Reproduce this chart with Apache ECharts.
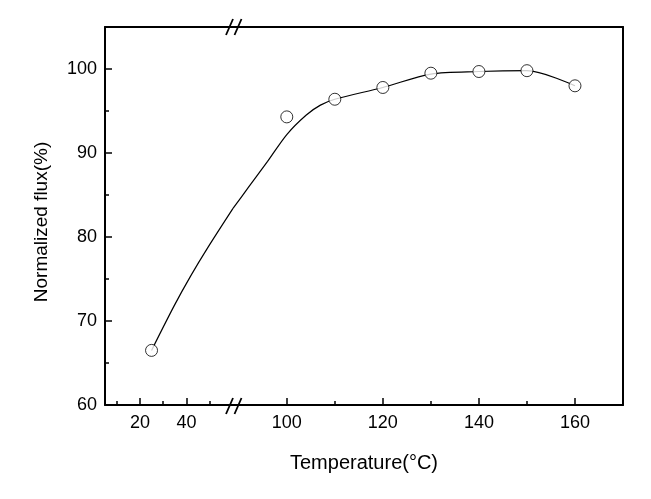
<!DOCTYPE html>
<html><head><meta charset="utf-8">
<script src="https://cdn.jsdelivr.net/npm/echarts@6/dist/echarts.min.js"></script>
<style>html,body{margin:0;padding:0;background:#fff}#c{width:651px;height:499px}</style>
</head><body><div id="c"></div>
<script>
// measured points
const temps = [25, 100, 110, 120, 130, 140, 150, 160];
const flux = [66.5, 94.3, 96.4, 97.8, 99.5, 99.7, 99.8, 98.0];
// fitted curve
const fitTemps = [25, 34.7, 41.9, 49.1, 60, 88.8, 92, 96, 100, 104, 107, 110, 120, 130, 140, 150, 160];
const fitFlux = [66.5, 71.8, 75.4, 78.7, 83.4, 83.4, 85.9, 89.0, 92.2, 94.5, 95.7, 96.4, 97.8, 99.4, 99.7, 99.8, 98.0];
// axes
const leftRange = [5, 60];
const rightRange = [88.8, 170];
const yRange = [60, 105];
const xTicksLeft = [20, 40];
const xMinorLeft = [10, 30, 50];
const xTicksRight = [100, 120, 140, 160];
const xMinorRight = [110, 130, 150];
const yTicks = [60, 70, 80, 90, 100];
const yMinor = [65, 75, 85, 95];
const xTitle = 'Temperature(°C)';
const yTitle = 'Normalized flux(%)';

const breakAt = leftRange[1];
const ptsL = [], ptsR = [], fitL = [], fitR = [];
temps.forEach((t, i) => (t <= breakAt ? ptsL : ptsR).push([t, flux[i]]));
fitTemps.forEach((t, i) => (t <= breakAt ? fitL : fitR).push([t, fitFlux[i]]));

const FONT = 'Liberation Sans, Arial, sans-serif';
const lineCol = '#000';
const axLine = { show: true, onZero: false, lineStyle: { color: lineCol, width: 2 } };
const noLine = { show: false };

function xMain(grid, rng, ticks) {
  return { type: 'value', gridIndex: grid, min: rng[0], max: rng[1], position: 'bottom',
    axisLine: axLine, splitLine: { show: false },
    axisTick: { show: true, inside: true, length: 7, customValues: ticks, lineStyle: { color: lineCol, width: 1.5 } },
    axisLabel: { show: true, customValues: ticks, margin: 9, color: '#000', fontSize: 18, fontFamily: FONT } };
}
function xMinor(grid, rng, ticks) {
  return { type: 'value', gridIndex: grid, min: rng[0], max: rng[1], position: 'bottom',
    axisLine: noLine, splitLine: { show: false },
    axisTick: { show: true, inside: true, length: 4, customValues: ticks, lineStyle: { color: lineCol, width: 1.5 } },
    axisLabel: { show: false } };
}
function xTop(grid, rng) {
  return { type: 'value', gridIndex: grid, min: rng[0], max: rng[1], position: 'top',
    axisLine: axLine, splitLine: { show: false }, axisTick: { show: false }, axisLabel: { show: false } };
}
const curveStyle = { color: '#000', width: 1.2 };

const chart = echarts.init(document.getElementById('c'));
chart.setOption({
  backgroundColor: '#fff',
  animation: false,
  grid: [
    { left: 105, top: 27, width: 128, height: 378 },
    { left: 233, top: 27, width: 390, height: 378 }
  ],
  xAxis: [
    xMain(0, leftRange, xTicksLeft), xMinor(0, leftRange, xMinorLeft), xTop(0, leftRange),
    xMain(1, rightRange, xTicksRight), xMinor(1, rightRange, xMinorRight), xTop(1, rightRange)
  ],
  yAxis: [
    { type: 'value', gridIndex: 0, min: yRange[0], max: yRange[1], position: 'left',
      axisLine: axLine, splitLine: { show: false },
      axisTick: { show: true, inside: true, length: 7, customValues: yTicks, lineStyle: { color: lineCol, width: 1.5 } },
      axisLabel: { show: true, customValues: yTicks, margin: 8, color: '#000', fontSize: 18, fontFamily: FONT } },
    { type: 'value', gridIndex: 0, min: yRange[0], max: yRange[1], position: 'left',
      axisLine: noLine, splitLine: { show: false },
      axisTick: { show: true, inside: true, length: 4, customValues: yMinor, lineStyle: { color: lineCol, width: 1.5 } },
      axisLabel: { show: false } },
    { type: 'value', gridIndex: 1, min: yRange[0], max: yRange[1], position: 'right',
      axisLine: axLine, splitLine: { show: false }, axisTick: { show: false }, axisLabel: { show: false } }
  ],
  series: [
    { type: 'line', xAxisIndex: 0, yAxisIndex: 0, data: fitL, smooth: 0.3, showSymbol: false,
      lineStyle: curveStyle, z: 2 },
    { type: 'line', xAxisIndex: 3, yAxisIndex: 2, data: fitR, smooth: 0.3, showSymbol: false,
      lineStyle: curveStyle, z: 2 },
    { type: 'scatter', xAxisIndex: 0, yAxisIndex: 0, data: ptsL, symbol: 'circle', symbolSize: 12,
      itemStyle: { color: '#fff', borderColor: '#000', borderWidth: 1 }, z: 5 },
    { type: 'scatter', xAxisIndex: 3, yAxisIndex: 2, data: ptsR, symbol: 'circle', symbolSize: 12,
      itemStyle: { color: '#fff', borderColor: '#000', borderWidth: 1 }, z: 5 }
  ]
});

// decorations: axis titles and break marks
const pBot = chart.convertToPixel({ gridIndex: 0 }, [breakAt, yRange[0]]);
const pTop = chart.convertToPixel({ gridIndex: 0 }, [breakAt, yRange[1]]);
const gL = chart.convertToPixel({ gridIndex: 0 }, [leftRange[0], yRange[0]]);
const gR = chart.convertToPixel({ gridIndex: 1 }, [rightRange[1], yRange[1]]);
function slashes(cx, cy) {
  const s = { stroke: '#000', lineWidth: 1.8 };
  return [
    { type: 'line', shape: { x1: cx - 8, y1: cy + 8, x2: cx - 1, y2: cy - 8 }, style: s, z: 100 },
    { type: 'line', shape: { x1: cx + 0.5, y1: cy + 8, x2: cx + 7.5, y2: cy - 8 }, style: s, z: 100 }
  ];
}
chart.setOption({
  graphic: [
    ...slashes(pBot[0] + 1, pBot[1] + 1),
    ...slashes(pTop[0] + 1, pTop[1]),
    { type: 'text', x: (gL[0] + gR[0]) / 2, y: 463, z: 100,
      style: { text: xTitle, font: '20px ' + FONT, fill: '#000', align: 'center', verticalAlign: 'middle' } },
    { type: 'text', x: 42, y: (gL[1] + gR[1]) / 2 + 6, rotation: Math.PI / 2, z: 100,
      style: { text: yTitle, font: '19px ' + FONT, fill: '#000', align: 'center', verticalAlign: 'middle' } }
  ]
});
</script>
</body></html>
